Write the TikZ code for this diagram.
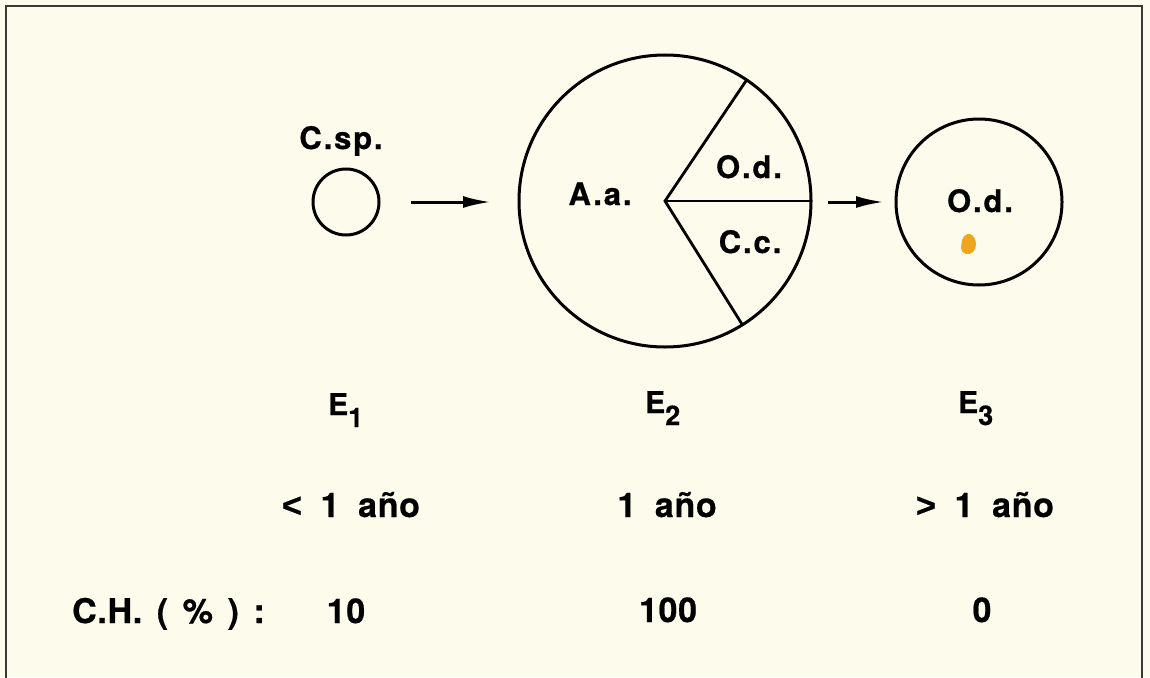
\documentclass[tikz,border=0pt]{standalone}
\usepackage{fontspec}
\setmainfont{TeX Gyre Heros}
\newfontfamily\lblfont{TeX Gyre Heros}[LetterSpace=6, BoldFeatures={FakeBold=0.6}]
\newfontfamily\rowfont{TeX Gyre Heros}[LetterSpace=2, BoldFeatures={FakeBold=0.6}]
\newfontfamily\cmpfont{Liberation Sans}[BoldFeatures={FakeBold=0.6}]
\usetikzlibrary{arrows.meta}
\definecolor{paper}{RGB}{253,252,236}
\definecolor{framec}{RGB}{60,56,52}
\definecolor{blob}{RGB}{240,165,30}
\tikzset{
  ring/.style={draw=black, line width=3pt},
  lbl/.style={inner sep=0pt, anchor=base, font=\fontsize{31}{31}\lblfont\bfseries},
  rowlbl/.style={inner sep=0pt, anchor=base, font=\fontsize{34}{34}\rowfont\bfseries},
  elbl/.style={inner sep=0pt, anchor=base west, font=\fontsize{30}{30}\rowfont\bfseries},
  flow/.style={line width=3pt, -{Latex[length=28pt,width=12pt]}},
  slice/.style={line width=2.8pt}
}
\newcommand{\esub}[1]{\raisebox{-12pt}{\fontsize{27}{27}\selectfont #1}}
\newcommand{\wsp}{\hspace{0.55em}}
\newcommand{\nsp}{\hspace{0.43em}}
\newcommand{\cmp}[1]{{\cmpfont\bfseries #1}}
\begin{document}
\begin{tikzpicture}[x=1pt,y=-1pt]
\useasboundingbox (0,0) rectangle (1150,677);
\fill[paper] (0,0) rectangle (1150,677);
% frame
\draw[framec, line width=2pt] (6,680) -- (6,6) -- (1142,6) -- (1142,680);

% circles
\node[ring, circle, minimum size=66pt, inner sep=0pt] (c1) at (346,202) {};
\node[ring, circle, minimum size=292pt, inner sep=0pt] (c2) at (665,201) {};
\node[ring, circle, minimum size=166pt, inner sep=0pt] (c3) at (979,202) {};

% pie slices
\coordinate (pc) at (665,201);
\coordinate (pu) at (746.6,80);
\coordinate (pr) at (811,201);
\coordinate (pd) at (742.4,324.8);
\draw[slice] (pu) -- (pc) -- (pd);
\draw[slice] (pc) -- (pr);

% arrows
\coordinate (a1s) at (411,202);
\coordinate (a1e) at (491,202);
\coordinate (a2s) at (828,202);
\coordinate (a2e) at (884,202);
\draw[flow] (a1s) -- (a1e);
\draw[flow] (a2s) -- (a2e);

% labels in circles
\node[lbl] (csp) at (341,149) {C.sp.};
\node[lbl] (aa) at (600,205) {A.a.};
\node[lbl] (od1) at (749,178) {O.d.};
\node[lbl] (cc) at (750,253) {C.c.};
\node[lbl] (od2) at (980,212) {O.d.};

% orange blob
\fill[blob] (962,240) .. controls (964,234) and (970,232) .. (973,236)
  .. controls (977,240) and (977,248) .. (973,252)
  .. controls (969,256) and (961,254) .. (961,248) -- cycle;

% E labels
\node[elbl] (e1) at (328,415) {E\esub{1}};
\node[elbl] (e2) at (645,413) {E\esub{2}};
\node[elbl] (e3) at (958,413) {E\esub{3}};

% ages
\node[rowlbl] (t1) at (351,517) {\cmp{<}\wsp1\wsp año};
\node[rowlbl] (t2) at (667,517) {1\wsp año};
\node[rowlbl] (t3) at (985,517) {\cmp{>}\wsp1\wsp año};

% C.H.
\node[rowlbl, anchor=base west] (ch) at (72,623) {C.H.\nsp(\nsp\%\nsp)\nsp:};
\node[rowlbl] (h1) at (346,623) {10};
\node[rowlbl] (h2) at (668,622) {100};
\node[rowlbl] (h3) at (982,622) {0};
\end{tikzpicture}
\end{document}
